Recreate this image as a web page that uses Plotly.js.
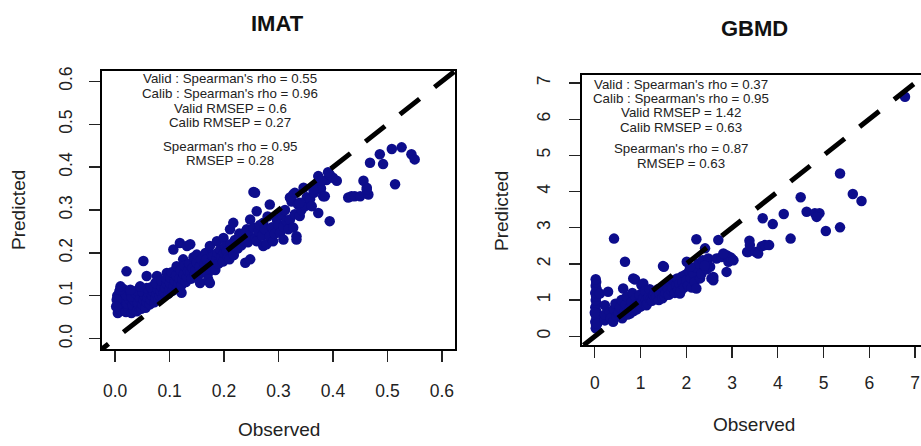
<!DOCTYPE html>
<html>
<head>
<meta charset="utf-8">
<script src="https://cdn.plot.ly/plotly-3.0.1.min.js"></script>
<style>
html,body{margin:0;padding:0;background:#fff;overflow:hidden;}
#chart{width:921px;height:446px;}
</style>
</head>
<body>
<div id="chart"></div>
<script>
// ---------- IMAT (observed vs predicted) ----------
const imatObs = [
  0.005,0.008,0.010,0.006,0.004,0.008,0.012,0.015,0.018,0.014,
  0.012,0.016,0.020,0.024,0.022,0.026,0.020,0.028,0.030,0.034,
  0.032,0.036,0.030,0.038,0.040,0.044,0.042,0.046,0.040,0.048,
  0.050,0.052,0.054,0.050,0.056,0.058,0.060,0.062,0.058,0.009,
  0.003,0.028,0.046,0.021,0.052,0.058,0.002,0.010,
  0.064,0.066,0.068,0.070,0.066,0.072,0.074,0.076,0.078,0.077,
  0.074,0.080,0.082,0.084,0.086,0.085,0.088,0.090,0.092,0.095,
  0.095,0.094,0.098,0.100,0.101,0.102,0.104,0.107,0.106,0.108,
  0.110,0.112,0.113,0.114,0.116,0.118,0.119,0.120,
  0.122,0.122,0.124,0.125,0.126,0.128,0.130,0.132,0.132,0.134,
  0.136,0.138,0.138,0.140,0.142,0.144,0.146,0.148,0.150,0.150,
  0.152,0.155,0.156,0.158,0.160,0.162,0.164,0.166,0.168,0.170,
  0.171,0.172,0.174,0.174,0.176,0.178,
  0.180,0.182,0.184,0.186,0.187,0.188,0.190,0.193,0.195,0.198,
  0.199,0.200,0.202,0.205,0.207,0.210,0.211,0.212,0.215,0.217,
  0.218,0.220,0.223,0.225,0.228,0.229,0.232,0.235,0.239,0.240,
  0.242,0.244,0.246,0.248,0.248,
  0.254,0.254,0.257,0.258,0.260,0.260,0.263,0.266,0.270,0.272,
  0.272,0.275,0.278,0.280,0.284,0.284,0.288,0.290,0.293,0.297,
  0.300,0.303,0.306,0.309,0.309,0.312,0.315,0.318,0.321,0.324,
  0.327,0.327,0.330,
  0.333,0.333,0.336,0.339,0.342,0.346,0.349,0.352,0.358,0.361,
  0.365,0.370,0.373,0.373,0.378,0.382,0.385,0.388,0.394,0.394,
  0.400,0.407,0.321,0.330,0.339,0.364,0.391,0.379,
  0.428,0.434,0.440,0.450,0.456,0.462,0.465,0.468,0.486,0.492,
  0.508,0.514,0.526,0.544,0.550,0.462
];
const imatPred = [
  0.060,0.070,0.080,0.090,0.100,0.110,0.065,0.075,0.085,0.095,
  0.105,0.115,0.062,0.072,0.082,0.092,0.102,0.110,0.060,0.068,
  0.078,0.088,0.098,0.106,0.064,0.074,0.084,0.094,0.112,0.070,
  0.080,0.090,0.100,0.110,0.072,0.085,0.095,0.105,0.118,0.114,
  0.091,0.114,0.122,0.157,0.181,0.146,0.075,0.122,
  0.080,0.090,0.100,0.110,0.120,0.085,0.095,0.105,0.115,0.146,
  0.130,0.092,0.100,0.110,0.120,0.135,0.098,0.108,0.118,0.128,
  0.153,0.140,0.105,0.115,0.130,0.142,0.155,0.208,0.112,0.122,
  0.135,0.148,0.169,0.118,0.128,0.140,0.223,0.160,
  0.107,0.125,0.138,0.185,0.150,0.170,0.132,0.216,0.145,0.158,
  0.175,0.153,0.220,0.140,0.165,0.190,0.150,0.160,0.177,0.196,
  0.145,0.168,0.130,0.185,0.155,0.161,0.175,0.200,0.185,0.150,
  0.138,0.165,0.216,0.130,0.178,0.195,
  0.192,0.170,0.160,0.185,0.227,0.200,0.175,0.208,0.190,0.180,
  0.235,0.200,0.215,0.204,0.190,0.185,0.255,0.220,0.205,0.270,
  0.195,0.230,0.223,0.210,0.245,0.239,0.218,0.230,0.177,0.250,
  0.255,0.225,0.240,0.278,0.185,
  0.259,0.342,0.340,0.235,0.297,0.227,0.250,0.265,0.240,0.270,
  0.216,0.255,0.220,0.285,0.313,0.239,0.260,0.227,0.245,0.278,
  0.265,0.247,0.290,0.262,0.231,0.300,0.275,0.255,0.278,0.320,
  0.336,0.259,0.290,
  0.239,0.231,0.313,0.286,0.300,0.352,0.309,0.330,0.325,0.309,
  0.340,0.360,0.379,0.293,0.350,0.332,0.332,0.370,0.383,0.274,
  0.375,0.368,0.329,0.340,0.317,0.348,0.388,0.368,
  0.329,0.332,0.332,0.332,0.368,0.352,0.336,0.410,0.430,0.407,
  0.442,0.360,0.446,0.430,0.418,0.348
];

// ---------- GBMD (observed vs predicted) ----------
const gbmdObs = [
  0.02,0.03,0.01,0.04,0.02,0.03,0.01,0.04,0.02,0.03,0.01,0.04,0.02,0.03,0.02,0.05,0.00,
  0.11,0.22,0.22,0.22,0.29,0.33,0.35,0.40,0.42,0.45,
  0.48,0.52,0.55,0.58,0.60,0.62,0.63,0.66,0.68,0.70,
  0.72,0.75,0.77,0.77,0.80,0.82,0.84,0.85,0.88,0.88,
  0.90,0.92,0.95,0.98,
  1.00,1.02,1.03,1.06,1.06,1.08,1.10,1.12,1.13,1.15,
  1.18,1.20,1.22,1.25,1.28,1.30,1.32,1.35,1.38,1.40,
  1.42,1.45,1.48,1.49,1.50,1.51,1.52,1.55,1.58,1.60,
  1.62,1.65,1.68,1.70,1.72,1.75,1.78,1.80,1.82,1.85,
  1.86,1.88,1.90,1.92,1.95,1.98,
  2.00,2.01,2.04,2.06,2.10,2.12,2.15,2.18,2.22,2.22,
  2.22,2.26,2.30,2.33,2.36,2.41,2.45,2.48,2.52,2.59,
  2.59,2.66,2.70,2.77,2.88,2.88,2.92,2.95,2.99,3.03,
  0.42,0.66,2.81,2.55,2.08,2.40,
  3.33,3.35,3.38,3.39,3.52,3.57,3.65,3.67,3.72,3.81,
  3.89,4.13,4.28,4.50,4.63,4.81,4.91,4.85,5.05,5.36,
  5.36,5.64,5.83,6.78
];
const gbmdPred = [
  0.22,0.30,0.40,0.50,0.60,0.70,0.80,0.90,1.00,1.10,1.20,1.30,1.40,1.50,1.58,0.35,0.65,
  1.18,0.44,0.86,0.60,1.23,0.67,0.50,0.40,0.75,0.90,
  0.55,0.65,0.80,1.00,0.50,1.32,0.60,0.72,0.88,1.10,
  0.60,0.65,0.78,0.63,0.95,1.20,1.60,0.70,1.57,0.85,
  1.05,0.75,0.90,1.15,
  0.82,1.41,0.95,1.46,1.05,0.88,1.25,1.00,0.86,0.92,
  1.10,1.30,1.02,0.98,1.15,1.22,1.05,1.10,1.30,1.00,
  1.18,1.25,1.05,1.94,1.35,1.92,1.12,1.20,1.40,1.30,
  1.15,1.48,1.25,1.35,1.55,1.20,1.42,1.60,1.30,1.45,
  1.18,1.25,1.65,1.50,1.35,1.70,
  1.55,2.06,1.40,1.80,1.60,1.35,1.75,1.50,2.68,1.90,
  1.32,2.01,1.60,1.73,2.10,2.43,1.85,2.15,1.92,1.64,
  1.55,2.15,2.66,2.19,2.24,1.78,2.06,2.19,2.15,2.10,
  2.70,2.06,2.29,1.60,1.92,1.95,
  2.33,2.33,2.64,2.52,2.33,2.29,2.49,3.26,2.52,2.52,
  3.10,3.38,2.70,3.84,3.44,3.40,3.40,3.30,2.91,4.50,
  3.01,3.93,3.74,6.62
];

// ---------- ticks, 1:1 line, texts ----------
const imatTicks = [0, 0.1, 0.2, 0.3, 0.4, 0.5, 0.6];
const imatTickText = ["0.0", "0.1", "0.2", "0.3", "0.4", "0.5", "0.6"];
const gbmdTicks = [0, 1, 2, 3, 4, 5, 6, 7];
const gbmdTickText = ["0", "1", "2", "3", "4", "5", "6", "7"];
const oneToOne = [-1, 10];

const panelTitles = ["IMAT", "GBMD"];
const xLabel = "Observed";
const yLabel = "Predicted";
const imatStats = ["Valid : Spearman's rho = 0.55", "Calib : Spearman's rho = 0.96",
  "Valid RMSEP = 0.6", "Calib RMSEP = 0.27", "Spearman's rho = 0.95", "RMSEP = 0.28"];
const gbmdStats = ["Valid : Spearman's rho = 0.37", "Calib : Spearman's rho = 0.95",
  "Valid RMSEP = 1.42", "Calib RMSEP = 0.63", "Spearman's rho = 0.87", "RMSEP = 0.63"];

// ---------- layout helpers ----------
const W = 921, H = 446;
const px = v => v / W;
const py = v => 1 - v / H;
const dotColor = "#0d0d8c";
const FONT = "Liberation Sans, Arial, Helvetica, sans-serif";

const dot = {color: dotColor, size: 10.5, line: {width: 0}};
const dashLine = {color: "#000", width: 5, dash: "25px,19px"};

const traces = [
  {x: imatObs, y: imatPred, xaxis: "x", yaxis: "y", type: "scatter", mode: "markers", marker: dot, hoverinfo: "skip"},
  {x: gbmdObs, y: gbmdPred, xaxis: "x2", yaxis: "y2", type: "scatter", mode: "markers", marker: dot, hoverinfo: "skip"},
  {x: oneToOne, y: oneToOne, xaxis: "x", yaxis: "y", type: "scatter", mode: "lines", line: dashLine, hoverinfo: "skip"},
  {x: oneToOne, y: oneToOne, xaxis: "x2", yaxis: "y2", type: "scatter", mode: "lines", line: dashLine, hoverinfo: "skip"}
];

const axBase = {
  showgrid: false, zeroline: false, showline: true, linecolor: "#000", linewidth: 1.6,
  ticks: "outside", ticklen: 11, tickwidth: 1.3, tickcolor: "#222",
  tickfont: {family: FONT, size: 17.5, color: "#222"}, fixedrange: true
};

const annotations = [];
function addText(text, x, y, size, opts) {
  annotations.push(Object.assign({
    text: text, xref: "paper", yref: "paper", x: px(x), y: py(y),
    xanchor: "center", yanchor: "middle", showarrow: false, borderpad: 0,
    font: {family: FONT, size: size, color: "#222"}
  }, opts || {}));
}
addText("<b>" + panelTitles[0] + "</b>", 277.5, 23, 22, {font: {family: FONT, size: 22, color: "#111"}});
addText("<b>" + panelTitles[1] + "</b>", 754, 29, 22, {font: {family: FONT, size: 22, color: "#111"}});
addText(xLabel, 279, 429, 19);
addText(xLabel, 754, 424, 19);
addText(yLabel, 18, 210, 19, {textangle: -90});
addText(yLabel, 502, 211, 19, {textangle: -90});

const imatY = [79, 93.5, 108, 122.5, 146, 160.5];
const gbmdY = [84, 98.5, 113, 127.5, 149, 163.5];
imatStats.forEach((t, i) => addText(t, 230, imatY[i], 13.3));
gbmdStats.forEach((t, i) => addText(t, 681, gbmdY[i], 13.3));

const layout = {
  width: W, height: H,
  margin: {l: 0, r: 0, t: 0, b: 0, pad: 0},
  paper_bgcolor: "#fff", plot_bgcolor: "#fff",
  showlegend: false,
  font: {family: FONT, color: "#222"},
  xaxis: Object.assign({}, axBase, {
    domain: [px(102), px(455)], range: [-0.024, 0.624], anchor: "y",
    tickvals: imatTicks, ticktext: imatTickText, mirror: true, ticklabelstandoff: 14
  }),
  yaxis: Object.assign({}, axBase, {
    domain: [1 - 349 / H, 1 - 71 / H], range: [-0.024, 0.624], anchor: "x",
    tickvals: imatTicks, ticktext: imatTickText, mirror: true, tickangle: -90, ticklabelstandoff: 10
  }),
  xaxis2: Object.assign({}, axBase, {
    domain: [px(582), 1], range: [-0.28, 7.13], anchor: "y2",
    tickvals: gbmdTicks, ticktext: gbmdTickText, mirror: true, ticklabelstandoff: 10
  }),
  yaxis2: Object.assign({}, axBase, {
    domain: [1 - 345 / H, 1 - 75 / H], range: [-0.24, 7.22], anchor: "x2",
    tickvals: gbmdTicks, ticktext: gbmdTickText, mirror: false, tickangle: -90, ticklabelstandoff: 12
  }),
  annotations: annotations
};

Plotly.newPlot("chart", traces, layout, {staticPlot: true, displayModeBar: false});
</script>
</body>
</html>
